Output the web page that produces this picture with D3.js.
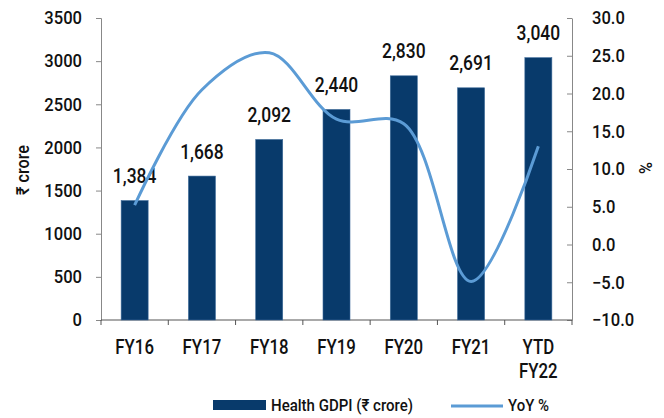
<!DOCTYPE html>
<html>
<head>
<meta charset="utf-8">
<script src="https://cdn.jsdelivr.net/npm/d3@7"></script>
<style>
  body { margin: 0; background: #fff; }
  text { font-family: "Roboto", sans-serif; font-weight: 500; fill: #111; }
</style>
</head>
<body>
<svg id="chart" width="664" height="418"></svg>
<script>
// ------------ DATA -----------------
const categories = ["FY16", "FY17", "FY18", "FY19", "FY20", "FY21", "YTD FY22"];
const gdpi = [1384, 1668, 2092, 2440, 2830, 2691, 3040];
const yoy = [5.2, 20.5, 25.4, 16.6, 16.0, -4.9, 13.0];
const leftTicks = [0, 500, 1000, 1500, 2000, 2500, 3000, 3500];
const rightTicks = [-10, -5, 0, 5, 10, 15, 20, 25, 30];

// ------------ SETUP -----------------
const svg = d3.select("#chart");
const plotLeft = 101, plotRight = 572, plotTop = 18, plotBottom = 320;
const barColor = "#083a6b", lineColor = "#5b9bd5";

const x = d3.scaleBand().domain(categories).range([plotLeft, plotRight]);
const yL = d3.scaleLinear().domain([0, 3500]).range([plotBottom, plotTop]);
const yR = d3.scaleLinear().domain([-10, 30]).range([plotBottom, plotTop]);
const barW = 27;
const cx = c => x(c) + x.bandwidth() / 2;

// condensed look: squeeze text horizontally
function squeeze(sel, f) {
  sel.each(function() {
    const w = this.getComputedTextLength();
    this.setAttribute("textLength", w * f);
    this.setAttribute("lengthAdjust", "spacingAndGlyphs");
  });
}

// ------------ AXES -----------------
const gL = svg.append("g").attr("transform", `translate(${plotLeft},0)`)
  .call(d3.axisLeft(yL).tickValues(leftTicks).tickFormat(d3.format("d")).tickSize(5).tickPadding(14));
const gR = svg.append("g").attr("transform", `translate(${plotRight},0)`)
  .call(d3.axisRight(yR).tickValues(rightTicks).tickFormat(d3.format(".1f")).tickSize(0).tickPadding(20));
gR.selectAll(".tick").append("line").attr("x1", -5).attr("x2", 0);

[gL, gR].forEach(g => {
  g.select(".domain").attr("stroke", "#888");
  g.selectAll(".tick line").attr("stroke", "#888");
  g.selectAll("text").style("font-size", "18px").attr("fill", "#111");
  squeeze(g.selectAll("text"), 0.92);
});

// x axis line with boundary ticks
svg.append("line").attr("x1", plotLeft).attr("x2", plotRight)
  .attr("y1", plotBottom).attr("y2", plotBottom).attr("stroke", "#555");
const bounds = categories.map(c => x(c)).concat([plotRight]);
svg.selectAll(".xtick").data(bounds).join("line")
  .attr("x1", d => d).attr("x2", d => d)
  .attr("y1", plotBottom).attr("y2", plotBottom + 5).attr("stroke", "#555");

const xlab = svg.selectAll(".xlab").data(categories).join("text")
  .attr("text-anchor", "middle")
  .style("font-size", "21px")
  .attr("y", 354)
  .each(function(d) {
    const parts = d === "YTD FY22" ? ["YTD", "FY22"] : [d];
    parts.forEach((p, i) => d3.select(this).append("tspan")
      .attr("x", cx(d)).attr("dy", i ? 24 : 0).text(p));
  });
squeeze(xlab.selectAll("tspan"), 0.8);

// ------------ BARS -----------------
svg.selectAll(".bar").data(gdpi).join("rect")
  .attr("x", (d, i) => cx(categories[i]) - barW / 2)
  .attr("width", barW)
  .attr("y", d => yL(d))
  .attr("height", d => plotBottom - yL(d))
  .attr("fill", barColor)
  .attr("stroke", "#3d6a99")
  .attr("stroke-width", 0.6);

const vals = svg.selectAll(".val").data(gdpi).join("text")
  .attr("text-anchor", "middle")
  .style("font-size", "21px")
  .attr("x", (d, i) => cx(categories[i]))
  .attr("y", d => yL(d) - 17.5)
  .text(d => d3.format(",")(d));
squeeze(vals, 0.83);

// ------------ LINE -----------------
const line = d3.line()
  .x((d, i) => cx(categories[i]))
  .y(d => yR(d))
  .curve(d3.curveCatmullRom.alpha(0.5));
svg.append("path").datum(yoy)
  .attr("d", line)
  .attr("fill", "none")
  .attr("stroke", lineColor)
  .attr("stroke-width", 3);

// ------------ AXIS TITLES -----------------
const t1 = svg.append("text").attr("transform", "translate(29,170) rotate(-90)")
  .attr("text-anchor", "middle").style("font-size", "18px").text("₹ crore");
const t2 = svg.append("text").attr("transform", "translate(639,168) rotate(90)")
  .attr("text-anchor", "middle").style("font-size", "18px").text("%");
squeeze(t1, 0.9);
squeeze(t2, 0.9);

// ------------ LEGEND -----------------
svg.append("rect").attr("x", 213).attr("y", 400).attr("width", 53).attr("height", 10).attr("fill", barColor);
const l1 = svg.append("text").attr("x", 271).attr("y", 411).style("font-size", "17px").text("Health GDPI (₹ crore)");
svg.append("line").attr("x1", 451).attr("x2", 503).attr("y1", 406).attr("y2", 406)
  .attr("stroke", lineColor).attr("stroke-width", 3);
const l2 = svg.append("text").attr("x", 508).attr("y", 411).style("font-size", "17px").text("YoY %");
l1.attr("textLength", 142).attr("lengthAdjust", "spacingAndGlyphs");
l2.attr("textLength", 41).attr("lengthAdjust", "spacingAndGlyphs");
</script>
</body>
</html>
